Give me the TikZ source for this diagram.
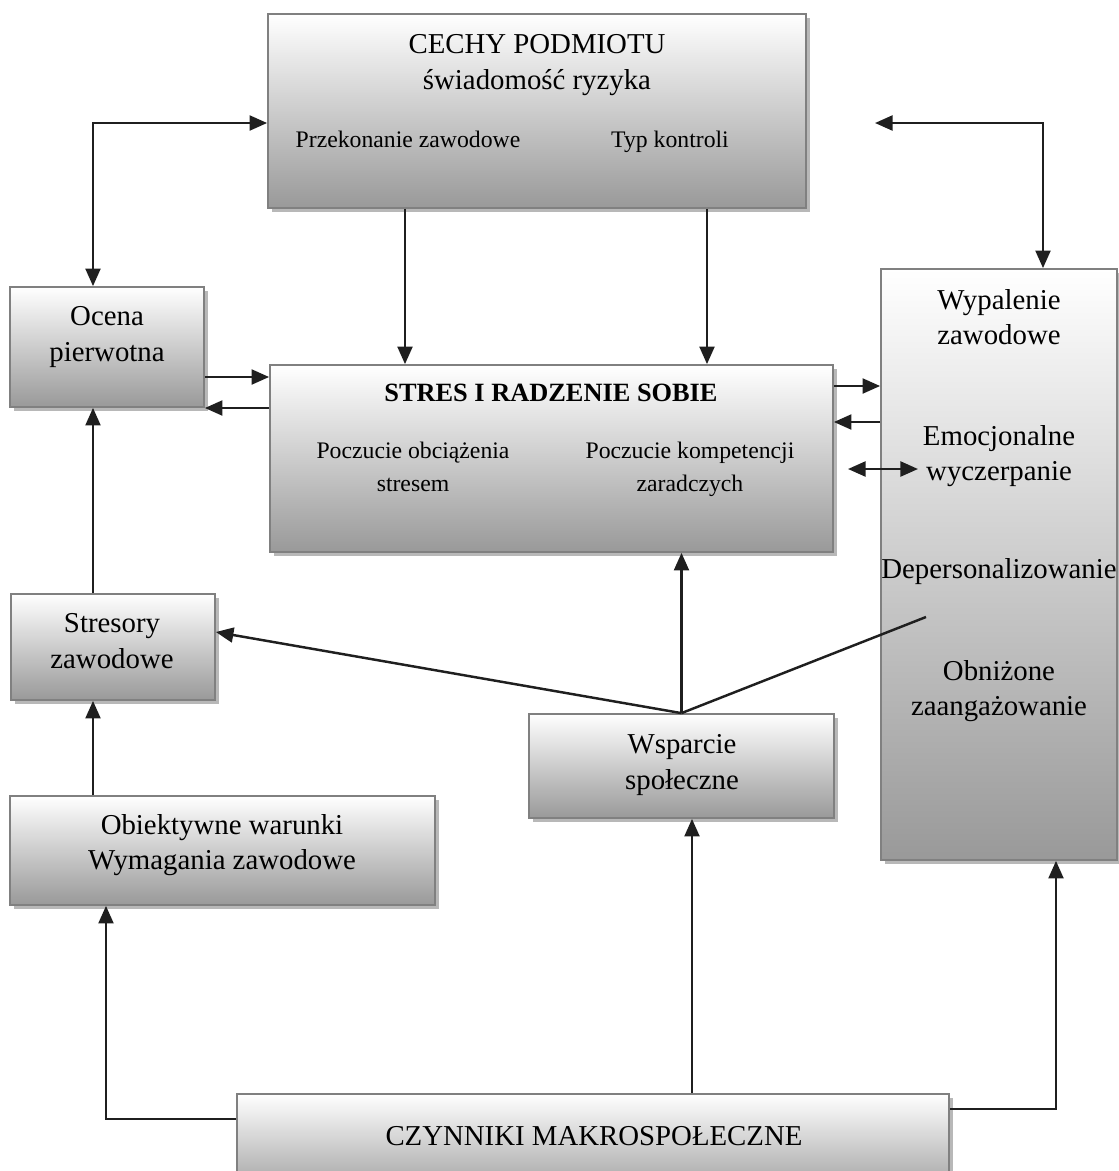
\documentclass[tikz,border=0pt]{standalone}
\usepackage{fontspec}
\setmainfont{Liberation Serif}
\usetikzlibrary{arrows.meta,shadows,fit}

\begin{document}
\begin{tikzpicture}[x=0.02cm,y=-0.02cm,
    box/.style={draw=black!50, line width=1pt, top color=white, bottom color=black!40, inner sep=0pt,
        drop shadow={shadow xshift=2.3pt, shadow yshift=-2.3pt, fill=black!28, opacity=1}},
    big/.style={align=center, text depth=0pt, font=\fontsize{16.4}{20}\selectfont},
    small/.style={align=center, text depth=0pt, font=\fontsize{13.5}{19}\selectfont},
    arr/.style={line width=1.4pt, draw=black!88, -{Triangle[length=10pt,width=8.5pt]}},
    darr/.style={arr, {Triangle[length=10pt,width=8.5pt]}-{Triangle[length=10pt,width=8.5pt]}},
    line/.style={line width=1.4pt, draw=black!88}]
                \useasboundingbox (0,0) rectangle (1119,1171);
                \clip (0,0) rectangle (1119,1171);
                \node[box, fit={(268,14) (806,208)}] (cechy) {};
                \node[box, fit={(10,287) (204,407)}] (ocena) {};
                \node[box, fit={(270,365) (833,552)}] (stres) {};
                \node[box, fit={(881,269) (1117,860)}] (wyp) {};
                \node[box, fit={(11,594) (215,700)}] (stresory) {};
                \node[box, fit={(529,714) (834,818)}] (wsparcie) {};
                \node[box, fit={(10,796) (435,905)}] (obiekt) {};
                \node[box, fit={(237,1094) (949,1200)}] (czynniki) {};
                \node[big] (cechyT) at (537,62) {CECHY PODMIOTU\\świadomość ryzyka};
                \node[small, anchor=base] (przekT) at (408,147) {Przekonanie zawodowe};
                \node[small, anchor=base] (typT) at (670,147) {Typ kontroli};
                \node[small, font=\fontsize{15}{19}\selectfont\bfseries] (stresT) at (551,393) {STRES I RADZENIE SOBIE};
                \node[small] (obcT) at (413,467) {Poczucie obciążenia\\stresem};
                \node[small] (kompT) at (690,467) {Poczucie kompetencji\\zaradczych};
                \node[big] (ocenaT) at (107,334) {Ocena\\pierwotna};
                \node[big] (wypT) at (999,317) {Wypalenie\\zawodowe};
                \node[big] (emocT) at (999,453) {Emocjonalne\\wyczerpanie};
                \node[big, anchor=base] (deperT) at (999,578) {Depersonalizowanie};
                \node[big] (obnizT) at (999,688) {Obniżone\\zaangażowanie};
                \node[big] (stresoryT) at (112,641) {Stresory\\zawodowe};
                \node[big] (wspT) at (682,762) {Wsparcie\\społeczne};
                \node[big] (obiektT) at (222,842) {Obiektywne warunki\\Wymagania zawodowe};
                \node[big, anchor=base] (czynT) at (594,1145) {CZYNNIKI MAKROSPOŁECZNE};
                \coordinate (cechyR) at (875,123);
                \coordinate (emocL) at (848,469);
                \coordinate (emocR) at (918,469);
                \coordinate (wspEnd) at (926,617);
                \draw[darr] (cechy.west |- 0,123) -| (93,0 |- ocena.north);
                \draw[darr] (cechyR) -| (1043,0 |- wyp.north);
                \draw[arr] (405,0 |- cechy.south) -- (405,0 |- stres.north);
                \draw[arr] (707,0 |- cechy.south) -- (707,0 |- stres.north);
                \draw[arr] (ocena.east |- 0,377) -- (stres.west |- 0,377);
                \draw[arr] (stres.west |- 0,408) -- (ocena.east |- 0,408);
                \draw[arr] (stres.east |- 0,386) -- (wyp.west |- 0,386);
                \draw[arr] (wyp.west |- 0,422) -- (stres.east |- 0,422);
                \draw[darr] (emocL) -- (emocR);
                \draw[arr] (93,0 |- stresory.north) -- (93,0 |- ocena.south);
                \draw[arr] (wsparcie.north) -- (wsparcie.north |- stres.south);
                \draw[arr] (wsparcie.north) -- (stresory.east |- 0,632);
                \draw[line] (wsparcie.north) -- (wspEnd);
                \draw[arr] (93,0 |- obiekt.north) -- (93,0 |- stresory.south);
                \draw[arr] (czynniki.west |- 0,1119) -| (106,0 |- obiekt.south);
                \draw[arr] (692,0 |- czynniki.north) -- (692,0 |- wsparcie.south);
                \draw[arr] (czynniki.east |- 0,1109) -| (1056,0 |- wyp.south);
            \end{tikzpicture}
\end{document}
